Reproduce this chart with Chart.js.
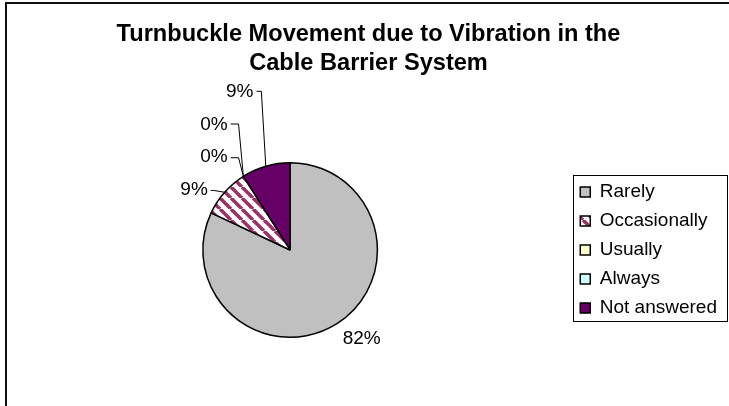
<!DOCTYPE html>
<html>
<head>
<meta charset="utf-8">
<title>Turnbuckle Movement</title>
<script src="https://cdn.jsdelivr.net/npm/chart.js@4.4.1/dist/chart.umd.min.js"></script>
<style>
    html, body { margin: 0; padding: 0; background: #fff; overflow: hidden; }
    .frame {
        position: absolute; left: 5px; top: 2px;
        width: 800px; height: 480px;
        border: 2px solid #111;
    }
    #chart { position: absolute; left: 0; top: 0; }
</style>
</head>
<body>
<div class="frame"></div>
<canvas id="chart" width="729" height="406"></canvas>
<script>
// Datos de la encuesta (porcentaje de respuestas)
const categories = ['Rarely', 'Occasionally', 'Usually', 'Always', 'Not answered'];
const percentages = [82, 9, 0, 0, 9];

const FONT = "'Liberation Sans', Arial, sans-serif";

// Rayas diagonales para "Occasionally"
function stripePattern() {
    const size = 11;
    const c = document.createElement('canvas');
    c.width = size; c.height = size;
    const g = c.getContext('2d');
    g.fillStyle = '#ffffff';
    g.fillRect(0, 0, size, size);
    g.strokeStyle = '#993366';
    g.lineWidth = 3.6;
    [-size, 0, size].forEach(k => {
        g.beginPath();
        g.moveTo(k, 0);
        g.lineTo(k + size, size);
        g.stroke();
    });
    return g.createPattern(c, 'repeat');
}

const ctx = document.getElementById('chart').getContext('2d');
const sliceColors = ['#c0c0c0', stripePattern(), '#ffffcc', '#ccffff', '#660066'];

// Posición de cada etiqueta, en unidades de radio desde el centro del pie.
// text = extremo del texto donde llega la guía, elbow = codo de la guía
const labelSpots = [
    { text: [0.602, 1.023], align: 'left' },
    { text: [-0.943, -0.693], elbow: [-0.875, -0.682], align: 'right' },
    { text: [-0.716, -1.068], elbow: [-0.591, -1.057], align: 'right' },
    { text: [-0.716, -1.432], elbow: [-0.591, -1.443], align: 'right' },
    { text: [-0.420, -1.807], elbow: [-0.330, -1.818], align: 'right' }
];

// Etiquetas de porcentaje con líneas guía
const pctLabels = {
    id: 'pctLabels',
    afterDatasetsDraw(chart) {
        const c = chart.ctx;
        const meta = chart.getDatasetMeta(0);
        const values = chart.data.datasets[0].data;
        c.save();
        c.font = '19px ' + FONT;
        c.fillStyle = '#000';
        c.strokeStyle = '#000';
        c.lineWidth = 1;
        c.textBaseline = 'middle';
        meta.data.forEach((arc, i) => {
            const { x, y, startAngle, endAngle, outerRadius } = arc.getProps(['x', 'y', 'startAngle', 'endAngle', 'outerRadius'], true);
            const spot = labelSpots[i];
            const r = outerRadius;
            const tx = x + spot.text[0] * r;
            const ty = y + spot.text[1] * r;
            if (spot.elbow) {
                const mid = (startAngle + endAngle) / 2;
                const ex = x + spot.elbow[0] * r;
                const ey = y + spot.elbow[1] * r;
                c.beginPath();
                c.moveTo(x + Math.cos(mid) * r, y + Math.sin(mid) * r);
                c.lineTo(ex, ey);
                c.lineTo(tx + (spot.align === 'right' ? 3 : -3), ey);
                c.stroke();
            }
            c.textAlign = spot.align;
            c.fillText(values[i] + '%', tx, ty);
        });
        c.restore();
    }
};

// Marco de la leyenda
const legendFrame = {
    id: 'legendFrame',
    afterDraw(chart) {
        const boxes = chart.legend && chart.legend.legendHitBoxes;
        if (!boxes || !boxes.length) return;
        const left = Math.min(...boxes.map(b => b.left)) - 7;
        const right = Math.max(...boxes.map(b => b.left + b.width)) + 10;
        const top = boxes[0].top - 7;
        const last = boxes[boxes.length - 1];
        const bottom = last.top + last.height + 4;
        const c = chart.ctx;
        c.save();
        c.strokeStyle = '#000';
        c.lineWidth = 1;
        c.strokeRect(Math.round(left) + 0.5, Math.round(top) + 0.5, Math.round(right - left), Math.round(bottom - top));
        c.restore();
    }
};

new Chart(ctx, {
    type: 'pie',
    data: {
        labels: categories,
        datasets: [{
            data: percentages,
            backgroundColor: sliceColors,
            borderColor: '#000',
            borderWidth: 1.5
        }]
    },
    options: {
        responsive: false,
        devicePixelRatio: 1,
        animation: false,
        events: [],
        layout: { padding: { left: 10, right: 2, top: 0, bottom: 68 } },
        plugins: {
            title: {
                display: true,
                text: ['Turnbuckle Movement due to Vibration in the', 'Cable Barrier System'],
                color: '#000',
                font: { family: FONT, size: 23.6, weight: 'bold', lineHeight: 1.27 },
                padding: { top: 19, bottom: 83 }
            },
            legend: {
                position: 'right',
                fullSize: false,
                labels: {
                    color: '#000',
                    font: { family: FONT, size: 19 },
                    boxWidth: 10,
                    boxHeight: 10,
                    padding: 10
                }
            },
            tooltip: { enabled: false }
        }
    },
    plugins: [pctLabels, legendFrame]
});
</script>
</body>
</html>
